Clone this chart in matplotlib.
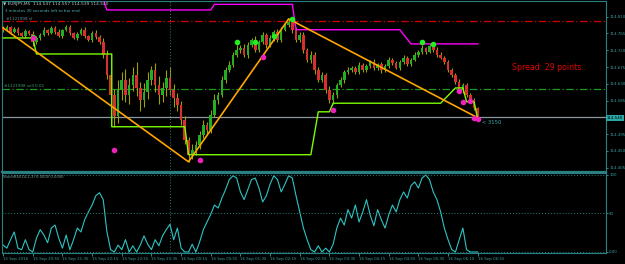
import numpy as np
import matplotlib.pyplot as plt

# EURJPY M5 candles (close prices)
closes = [114.775, 114.783, 114.769, 114.777, 114.767, 114.759, 114.772, 114.764,
          114.742, 114.753,
          114.761, 114.775, 114.767, 114.780, 114.769, 114.759, 114.775, 114.783, 114.767,
          114.753, 114.764, 114.775, 114.759, 114.748, 114.767, 114.756, 114.742,
          114.708, 114.654, 114.600, 114.545,
          114.614, 114.641, 114.600, 114.627, 114.654, 114.619, 114.587, 114.608, 114.641,
          114.667, 114.627, 114.600, 114.619, 114.646, 114.614, 114.592, 114.574,
          114.533, 114.480, 114.440, 114.453, 114.466,
          114.493, 114.520, 114.507, 114.547, 114.587, 114.600, 114.641, 114.667, 114.681,
          114.708, 114.721,
          114.726, 114.708, 114.734, 114.748, 114.721, 114.742, 114.761, 114.734, 114.753,
          114.769, 114.748, 114.775, 114.788, 114.796,
          114.775, 114.748, 114.761, 114.721, 114.694, 114.708, 114.667, 114.641, 114.654,
          114.614, 114.587,
          114.600, 114.627, 114.641, 114.662, 114.667,
          114.673, 114.662, 114.681, 114.667, 114.678, 114.689, 114.673, 114.683, 114.667,
          114.678, 114.694, 114.686, 114.673, 114.689, 114.700, 114.683, 114.694, 114.708,
          114.716,
          114.726, 114.716, 114.732, 114.721, 114.708, 114.700,
          114.689, 114.667, 114.654, 114.635, 114.614, 114.627, 114.600, 114.587, 114.566,
          114.540]
first_open = 114.780

# wick lengths in points (0.001)
wick_up = [4, 6, 3, 5, 4, 2, 6, 3, 8, 5,
           4, 6, 3, 5, 4, 7, 3, 5, 6, 3,
           5, 4, 6, 3, 5, 7, 6, 10, 12, 8,
           15, 25, 20, 30, 18, 22, 35, 15, 25, 20,
           12, 18, 24, 15, 20, 28, 16, 14, 10, 12,
           8, 15, 12, 10, 14, 9, 12, 16, 8, 10,
           7, 9, 6, 12, 8, 10, 7, 6, 9, 5,
           8, 6, 7, 5, 9, 6, 5, 8, 6, 7,
           9, 8, 6, 10, 7, 8, 9, 6, 10, 8,
           6, 7, 5, 8, 6, 5, 7, 4, 6, 5,
           7, 4, 6, 5, 8, 4, 6, 5, 7, 5,
           4, 6, 5, 8, 4, 6, 5, 7, 6, 5,
           4, 6, 5, 7, 4, 6, 5, 4, 3]
wick_dn = [5, 3, 6, 4, 7, 3, 5, 4, 10, 6,
           5, 4, 6, 3, 5, 4, 6, 3, 5, 4,
           6, 3, 5, 4, 6, 5, 4, 8, 10, 12,
           30, 20, 28, 18, 25, 15, 22, 30, 18, 20,
           15, 20, 25, 18, 22, 15, 25, 18, 14, 10,
           19, 12, 15, 10, 8, 12, 9, 7, 10, 6,
           8, 5, 7, 6, 9, 5, 8, 6, 7, 5,
           6, 8, 5, 7, 6, 5, 4, 5, 8, 6,
           7, 9, 6, 8, 10, 7, 6, 9, 8, 12,
           7, 6, 8, 5, 6, 7, 5, 6, 4, 5,
           6, 5, 7, 4, 5, 6, 4, 5, 6, 5,
           5, 4, 6, 5, 7, 4, 6, 5, 4, 6,
           5, 7, 6, 5, 8, 6, 7, 5, 4]

# StochRSI values
stoch = [9, 5, 16, 26, 5, 3, 16, 3, 0, 18,
         29, 22, 12, 31, 35, 18, 5, 22, 3, 16,
         31, 26, 42, 52, 61, 73, 77, 68, 26, 3,
         0, 9, 3, 16, 0, 8, 0, 9, 21, 10,
         3, 16, 8, 21, 29, 36, 16, 31, 5, 0,
         0, 10, 0, 13, 29, 39, 49, 61, 57, 70,
         81, 94, 99, 96, 78, 68, 81, 94, 96, 83,
         65, 73, 88, 99, 94, 78, 88, 99, 96, 73,
         52, 31, 16, 3, 0, 8, 0, 5, 0, 10,
         31, 44, 35, 55, 44, 61, 39, 52, 68, 48,
         34, 55, 42, 31, 48, 61, 52, 68, 78, 70,
         86, 91, 83, 96, 100, 94, 78, 68, 52, 31,
         16, 3, 0, 16, 31, 3, 0, 0, 0]

# zigzag
zz_x = [0, 50, 77, 128]
zz_y = [114.780, 114.421, 114.804, 114.539]

# channel lines
upper_x = [0, 26.5, 28, 56, 57, 78, 79, 107, 110, 128]
upper_y = [114.870, 114.870, 114.828, 114.828, 114.843, 114.843, 114.775, 114.775, 114.737, 114.737]
lower_x = [0, 8, 9, 29.3, 29.3, 49, 50, 83, 85, 88, 89, 118, 122, 124, 125, 127, 128]
lower_y = [114.753, 114.753, 114.710, 114.710, 114.515, 114.515, 114.440, 114.440, 114.555,
           114.555, 114.578, 114.578, 114.619, 114.619, 114.582, 114.582, 114.536]

# fractal dots
up_dots_x = [8, 63, 68, 73, 78, 113, 116]
up_dots_y = [114.756, 114.742, 114.742, 114.759, 114.804, 114.742, 114.737]
dn_dots_x = [8, 30, 53, 70, 89, 123, 124, 126, 127, 128]
dn_dots_y = [114.752, 114.453, 114.426, 114.702, 114.560, 114.611, 114.582, 114.584, 114.539, 114.536]

price_ticks = [114.810, 114.765, 114.720, 114.675, 114.630, 114.585, 114.495, 114.450, 114.405]
time_labels = ["15 Sep 2016", "15 Sep 20:55", "15 Sep 21:35", "15 Sep 22:15", "15 Sep 22:55",
               "15 Sep 23:35", "16 Sep 00:15", "16 Sep 00:55", "16 Sep 01:35", "16 Sep 02:15",
               "16 Sep 02:55", "16 Sep 03:35", "16 Sep 04:15", "16 Sep 04:55", "16 Sep 05:35",
               "16 Sep 06:15", "16 Sep 06:55"]

FRAME = '#2a8080'
TXT = '#3a9b9b'
W, H = 625, 264

fig = plt.figure(figsize=(6.25, 2.64), dpi=100, facecolor='black')
ax = fig.add_axes([2 / W, 1 - 171.5 / H, 604 / W, 170.5 / H], facecolor='black')
ax2 = fig.add_axes([2 / W, 1 - 253 / H, 604 / W, 80.5 / H], facecolor='black')

n = len(closes)
idx = np.arange(n)
closes = np.array(closes)
opens = np.concatenate([[first_open], closes[:-1]])
top = np.maximum(opens, closes)
bot = np.minimum(opens, closes)
highs = top + np.array(wick_up) / 1000
lows = bot - np.array(wick_dn) / 1000

ax.vlines(idx, lows, highs, color='#a0a000', lw=0.8, zorder=2)
cols = np.where(closes >= opens, '#22b022', '#d83030')
ax.bar(idx, np.maximum(top - bot, 0.0015), bottom=bot, width=0.7, color=cols, zorder=3)

# horizontal levels
ax.axhline(114.798, color='#d00000', lw=0.9, ls=(0, (6, 2, 1, 2)), zorder=1)
ax.axhline(114.617, color='#1f9a1f', lw=0.9, ls=(0, (6, 2, 1, 2)), zorder=1)
ax.axhline(114.540, color='#8a96a0', lw=0.9, zorder=1)
ax.axvline(45, color=FRAME, lw=0.7, ls=(0, (1, 2)))
ax2.axvline(45, color=FRAME, lw=0.7, ls=(0, (1, 2)))

ax.plot(upper_x, upper_y, color='#ff00ff', lw=1.0, zorder=4)
ax.plot(lower_x, lower_y, color='#7cfc00', lw=1.0, zorder=4)
ax.plot(zz_x, zz_y, color='#ffa500', lw=1.2, zorder=5)
ax.plot(up_dots_x, up_dots_y, 'o', color='#22ee22', ms=3, zorder=6)
ax.plot(dn_dots_x, dn_dots_y, 'o', color='#ee22bb', ms=3, zorder=6)

ax.set_xlim(-0.3, 162.6)
ax.set_ylim(114.395, 114.852)
ax.set_xticks([])
ax.yaxis.tick_right()
ax.set_yticks(price_ticks)
ax.set_yticklabels([f"{p:.3f}" for p in price_ticks])
ax.tick_params(axis='y', colors=TXT, labelsize=2.9, length=1.5, width=0.6, pad=0.8)

# stoch rsi
ax2.plot(idx, stoch, color='#2ec4c4', lw=0.8)
for lv in [100, 50, 0]:
    ax2.axhline(lv, color=FRAME, lw=0.7, ls=(0, (1, 2)))
ax2.set_xlim(-0.3, 162.6)
ax2.set_ylim(-1.3, 103.2)
ax2.yaxis.tick_right()
ax2.set_yticks([100, 50, 0])
ax2.set_yticklabels(["100", "50", "0.00"])
ax2.tick_params(axis='y', colors=TXT, labelsize=2.9, length=1.5, width=0.6, pad=0.8)
ax2.set_xticks(np.arange(0, 129, 8))
ax2.set_xticklabels(time_labels, ha='left')
ax2.tick_params(axis='x', colors=TXT, labelsize=2.9, length=2, width=0.6, pad=1)

for a in (ax, ax2):
    for s in a.spines.values():
        s.set_color(FRAME)
        s.set_linewidth(0.8)
ax.spines['bottom'].set_linewidth(1.6)

def ftext(x, y, s, **kw):
    fig.text(x / W, 1 - y / H, s, va='center', **kw)

ftext(3, 4, "\u25bc EURJPY,M5  114.547 114.557 114.539 114.540", color='#b8c8c8', fontsize=3.1)
ftext(5, 11, "3 minutes 30 seconds left to bar end", color='#4fb0b0', fontsize=2.9)
ftext(6, 19, "#1321998 sl", color='#6a8a8a', fontsize=3)
ftext(4, 86, "#1321998 sell 0.02", color='#3a9a6a', fontsize=3)
ftext(3, 177, "StochRSI(14,1,3) 0.0000 0.0000", color='#7aa0a0', fontsize=2.7)
ftext(512, 67, "Spread: 29 points.", color='#e00000', fontsize=5.7)
ftext(482, 122, "< 3150", color='#3aa8a8', fontsize=3.8)
ftext(607, 118, "114.540", color='black', fontsize=2.9,
      bbox=dict(facecolor='#2aa8a8', edgecolor='none', pad=0.8))

fig.savefig('out.png', dpi=100, facecolor='black')
